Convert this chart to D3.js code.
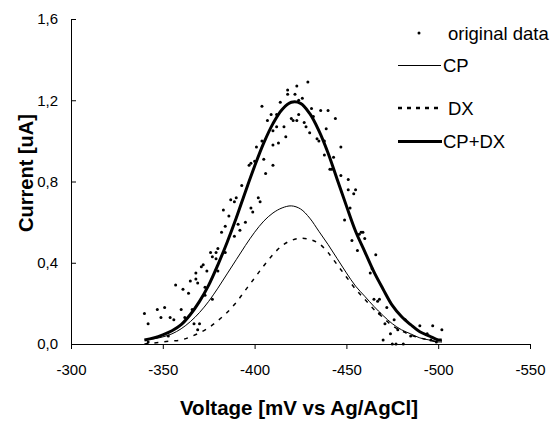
<!DOCTYPE html>
<html>
<head>
<meta charset="utf-8">
<script src="https://cdn.jsdelivr.net/npm/d3@7"></script>
<style>
  body { margin: 0; background: #fff; }
  text { font-family: "Liberation Sans", Arial, sans-serif; fill: #000; }
</style>
</head>
<body>
<div id="chart"></div>
<script>
// Data

var voltage = [-340, -345, -350, -355, -360, -365, -370, -375, -380, -385, -390, -395, -400,
  -405, -410, -415, -420, -425, -430, -435, -440, -445, -450, -455, -460, -465, -470,
  -475, -480, -485, -490, -495, -500, -502];
var cp = [0.02, 0.025, 0.035, 0.05, 0.075, 0.11, 0.155, 0.21, 0.275, 0.345, 0.415, 0.485, 0.55,
  0.605, 0.645, 0.67, 0.68, 0.665, 0.62, 0.555, 0.49, 0.42, 0.35, 0.285, 0.235, 0.185, 0.14,
  0.10, 0.07, 0.05, 0.03, 0.02, 0.01, 0.01];
var dx = [0.00, 0.005, 0.01, 0.015, 0.02, 0.035, 0.055, 0.08, 0.115, 0.155, 0.205, 0.265, 0.325,
  0.385, 0.44, 0.485, 0.51, 0.52, 0.515, 0.495, 0.45, 0.39, 0.33, 0.27, 0.22, 0.17, 0.13,
  0.09, 0.065, 0.045, 0.03, 0.02, 0.01, 0.01];
var cpdx = [0.02, 0.03, 0.045, 0.065, 0.095, 0.145, 0.21, 0.29, 0.39, 0.50, 0.62, 0.75, 0.875,
  0.99, 1.085, 1.155, 1.19, 1.185, 1.135, 1.05, 0.94, 0.81, 0.68, 0.555, 0.455, 0.355, 0.27,
  0.19, 0.135, 0.095, 0.06, 0.04, 0.02, 0.02];

// original data (measured points)
var dataV = [-340, -342, -342, -347, -349, -351, -354, -353, -356, -357, -360, -361, -362,
  -364, -365, -366, -367, -368, -368, -369, -369, -370, -371, -372, -373, -373, -374,
  -376, -377, -377, -379, -379, -380, -380, -382, -383, -384, -384, -386, -387, -389,
  -390, -389, -391, -392, -393, -395, -397, -398, -398, -399, -400, -401, -402, -403,
  -404, -404, -405, -406, -407, -409, -410, -410, -410, -412, -412, -413, -414, -416,
  -417, -418, -418, -420, -421, -422, -423, -423, -424, -424, -426, -427, -428, -429,
  -430, -431, -432, -434, -435, -436, -438, -438, -439, -440, -441, -442, -443, -444,
  -447, -447, -449, -451, -451, -452, -453, -454, -455, -456, -457, -458, -459, -460,
  -463, -464, -465, -466, -467, -468, -468, -470, -471, -472, -474, -475, -476, -477,
  -478, -481, -482, -485, -490, -494, -496, -497, -499, -502];
var dataI = [0.15, 0.01, 0.10, 0.17, 0.13, 0.18, 0.13, 0.04, 0.12, 0.29, 0.17, 0.27, 0.13,
  0.25, 0.31, 0.17, 0.10, 0.32, 0.35, 0.30, 0.07, 0.10, 0.38, 0.39, 0.24, 0.28, 0.36,
  0.45, 0.43, 0.22, 0.45, 0.42, 0.47, 0.36, 0.55, 0.66, 0.58, 0.45, 0.63, 0.71, 0.70,
  0.72, 0.53, 0.59, 0.56, 0.78, 0.60, 0.88, 0.89, 0.67, 0.65, 0.90, 0.97, 0.72, 0.70,
  1.17, 1.00, 0.91, 0.84, 1.10, 1.13, 1.05, 0.98, 0.88, 1.13, 1.07, 0.99, 1.19, 1.07,
  1.02, 1.23, 1.25, 1.11, 1.10, 1.23, 1.27, 1.10, 1.13, 1.20, 1.21, 1.09, 1.07, 1.29,
  1.04, 1.16, 1.12, 1.01, 1.00, 1.15, 1.00, 0.93, 1.06, 1.15, 0.86, 0.86, 0.92, 1.11,
  0.83, 0.97, 0.61, 0.81, 0.76, 0.67, 0.51, 0.74, 0.76, 0.46, 0.54, 0.55, 0.55, 0.52,
  0.35, 0.37, 0.22, 0.44, 0.21, 0.22, 0.15, 0.02, 0.10, 0.18, 0.05, 0.00, 0.12, 0.00,
  0.07, 0.00, 0.12, 0.04, 0.09, 0.05, 0.02, 0.09, 0.01, 0.07];

var xTicks = [-300, -350, -400, -450, -500, -550];
var yTicks = [0, 0.4, 0.8, 1.2, 1.6];

// Size

var w = 554;
var h = 422;

// Scales

var xScale = d3.scaleLinear()
  .domain([-300, -550])
  .range([71, 530]);

var yScale = d3.scaleLinear()
  .domain([0, 1.6])
  .range([344, 19]);

var comma = d3.formatLocale({decimal: ",", thousands: ".", grouping: [3], currency: ["", ""]}).format(".1f");

var svg = d3.select("div#chart")
  .append("svg")
    .attr("width", w)
    .attr("height", h);

svg.append("rect")
  .attr("width", w)
  .attr("height", h)
  .attr("fill", "#fff");

// Axes

var xAxis = svg.append("g")
  .attr("transform", "translate(0,344)")
  .call(d3.axisBottom(xScale)
    .tickValues(xTicks)
    .tickSizeInner(5)
    .tickSizeOuter(0)
    .tickPadding(15)
    .tickFormat(d => String(d)));

var yAxis = svg.append("g")
  .attr("transform", "translate(71,0)")
  .call(d3.axisLeft(yScale)
    .tickValues(yTicks)
    .tickSizeInner(-5)
    .tickSizeOuter(0)
    .tickPadding(13)
    .tickFormat(comma));

[xAxis, yAxis].forEach(function(g) {
  g.attr("font-family", null).attr("font-size", null);
  g.selectAll("path, line").attr("stroke", "#000");
  g.selectAll("text").style("font-size", "15px").attr("fill", "#000");
});

// Axis titles

svg.append("text")
  .attr("x", 299)
  .attr("y", 415)
  .attr("text-anchor", "middle")
  .style("font-size", "20.5px")
  .style("font-weight", "bold")
  .text("Voltage [mV vs Ag/AgCl]");

svg.append("text")
  .attr("transform", "translate(33,173) rotate(-90)")
  .attr("text-anchor", "middle")
  .style("font-size", "20px")
  .style("font-weight", "bold")
  .text("Current [uA]");

// Curves

var curveData = function(vals) {
  return voltage.map((v, i) => [v, vals[i]]);
};

var line = d3.line()
  .x(d => xScale(d[0]))
  .y(d => yScale(d[1]))
  .curve(d3.curveCatmullRom);

svg.append("path")
  .datum(curveData(cp))
  .attr("d", line)
  .attr("fill", "none")
  .attr("stroke", "#000")
  .attr("stroke-width", 1);

svg.append("path")
  .datum(curveData(dx))
  .attr("d", line)
  .attr("fill", "none")
  .attr("stroke", "#000")
  .attr("stroke-width", 1.5)
  .attr("stroke-dasharray", "4,6");

svg.append("path")
  .datum(curveData(cpdx))
  .attr("d", line)
  .attr("fill", "none")
  .attr("stroke", "#000")
  .attr("stroke-width", 3);

// Points

svg.append("g")
  .selectAll("circle")
  .data(dataV.map((v, i) => [v, dataI[i]]))
  .enter()
  .append("circle")
    .attr("cx", d => xScale(d[0]))
    .attr("cy", d => yScale(d[1]))
    .attr("r", 1.5)
    .attr("fill", "#000");

// Legend

var legend = svg.append("g").style("font-size", "18.5px");

legend.append("circle")
  .attr("cx", 419).attr("cy", 33).attr("r", 1.5).attr("fill", "#000");
legend.append("text").attr("x", 448).attr("y", 39.5).text("original data");

legend.append("line")
  .attr("x1", 398).attr("x2", 441).attr("y1", 65.5).attr("y2", 65.5)
  .attr("stroke", "#000").attr("stroke-width", 1);
legend.append("text").attr("x", 443).attr("y", 72).text("CP");

legend.append("line")
  .attr("x1", 398).attr("x2", 442).attr("y1", 108).attr("y2", 108)
  .attr("stroke", "#000").attr("stroke-width", 2.5)
  .attr("stroke-dasharray", "4,5");
legend.append("text").attr("x", 448).attr("y", 114.5).text("DX");

legend.append("line")
  .attr("x1", 398).attr("x2", 442).attr("y1", 141.5).attr("y2", 141.5)
  .attr("stroke", "#000").attr("stroke-width", 3);
legend.append("text").attr("x", 443).attr("y", 148).text("CP+DX");
</script>
</body>
</html>
